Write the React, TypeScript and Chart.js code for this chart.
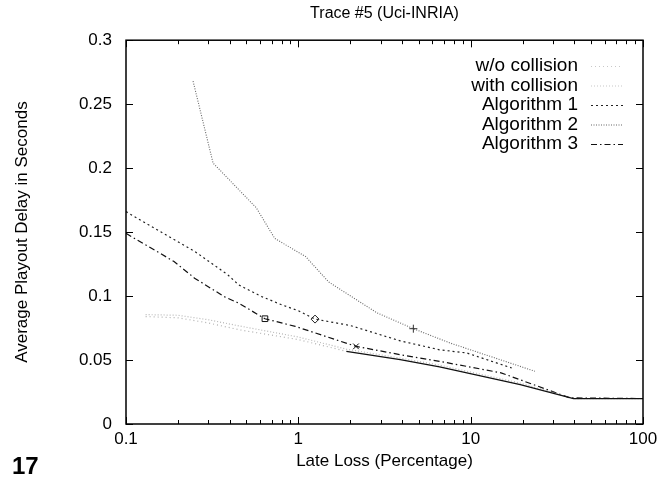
import React, { useEffect, useRef } from 'react';
import { Chart, registerables } from 'chart.js';

Chart.register(...registerables);

const TITLE = 'Trace #5 (Uci-INRIA)';
const X_TITLE = 'Late Loss (Percentage)';
const Y_TITLE = 'Average Playout Delay in Seconds';
const PAGE_NUMBER = '17';

const X_TICKS = [0.1, 1, 10, 100];
const Y_TICKS = [0, 0.05, 0.1, 0.15, 0.2, 0.25, 0.3];

const LABELS = ['w/o collision', 'with collision', 'Algorithm 1', 'Algorithm 2', 'Algorithm 3'];

const woCollisionX = [0.13, 0.2, 0.3, 0.46, 1, 1.9, 3.9, 6.6, 19.4, 39.5, 100];
const woCollisionY = [0.084, 0.083, 0.079, 0.0735, 0.066, 0.0568, 0.0503, 0.0446, 0.0308, 0.0199, 0.0199];

const withCollisionX = [0.13, 0.2, 0.3, 0.46, 1, 1.9, 3.9, 6.6, 19.4, 39.5, 100];
const withCollisionY = [0.0855, 0.085, 0.0815, 0.0765, 0.068, 0.0585, 0.0515, 0.046, 0.032, 0.0199, 0.0199];

const alg1X = [0.1, 0.16, 0.25, 0.39, 0.45, 0.61, 0.8, 1.0, 1.25, 2, 3.9, 6.6, 9.5, 17.3];
const alg1Y = [0.166, 0.15, 0.135, 0.1166, 0.1088, 0.0997, 0.0932, 0.0885, 0.082, 0.077, 0.065, 0.058, 0.0555, 0.0438];

const alg2X = [0.245, 0.32, 0.46, 0.57, 0.73, 1.1, 1.5, 2.85, 4.65, 7.6, 14.8, 23.6];
const alg2Y = [0.268, 0.204, 0.182, 0.169, 0.145, 0.131, 0.111, 0.087, 0.0745, 0.0633, 0.0503, 0.0412];

const alg3X = [0.1, 0.19, 0.25, 0.37, 0.45, 0.64, 0.96, 2.16, 3.9, 6.6, 15, 37.7, 100];
const alg3Y = [0.149, 0.127, 0.114, 0.0997, 0.0945, 0.0823, 0.0763, 0.0607, 0.0542, 0.049, 0.04, 0.0204, 0.0199];

// marker positions (x values of points carrying a symbol)
const alg1MarkerX = [1.25];
const alg2MarkerX = [4.65];
const alg3MarkerX = [0.64, 2.16];

const FONT = "'Liberation Sans', Arial, Helvetica, sans-serif";

const zip = (xs: number[], ys: number[]) => xs.map((x, i) => ({ x, y: ys[i] }));

const framePlugin = {
  id: 'frame',
  afterDraw(chart: any) {
    const { ctx, chartArea: a, scales } = chart;
    const xs = scales.x;
    const ys = scales.y;
    ctx.save();
    ctx.strokeStyle = '#000';
    ctx.lineWidth = 1.5;
    ctx.setLineDash([]);
    ctx.strokeRect(a.left, a.top, a.right - a.left, a.bottom - a.top);
    ctx.lineWidth = 1;
    ctx.beginPath();
    Y_TICKS.forEach((v) => {
      const p = Math.round(ys.getPixelForValue(v)) + 0.5;
      ctx.moveTo(a.left, p);
      ctx.lineTo(a.left + 7, p);
      ctx.moveTo(a.right, p);
      ctx.lineTo(a.right - 7, p);
    });
    for (let d = 0.1; d < 100; d *= 10) {
      for (let k = 1; k <= 10; k++) {
        const v = d * k;
        const p = Math.round(xs.getPixelForValue(v)) + 0.5;
        const len = k === 1 || k === 10 ? 7 : 4;
        ctx.moveTo(p, a.bottom);
        ctx.lineTo(p, a.bottom - len);
        ctx.moveTo(p, a.top);
        ctx.lineTo(p, a.top + len);
      }
    }
    ctx.stroke();

    ctx.font = `19px ${FONT}`;
    ctx.fillStyle = '#000';
    ctx.textAlign = 'right';
    ctx.textBaseline = 'middle';
    chart.data.datasets.forEach((ds: any, i: number) => {
      const y = 66 + i * 19.5;
      ctx.fillText(ds.label, 578, y);
      ctx.save();
      ctx.strokeStyle = ds.legendColor || ds.borderColor;
      ctx.lineWidth = ds.borderWidth || 1;
      ctx.setLineDash(ds.borderDash || []);
      ctx.beginPath();
      ctx.moveTo(591, y + 0.5);
      ctx.lineTo(623, y + 0.5);
      ctx.stroke();
      ctx.restore();
    });

    ctx.font = `bold 24px ${FONT}`;
    ctx.textAlign = 'left';
    ctx.textBaseline = 'alphabetic';
    ctx.fillText(PAGE_NUMBER, 12, 474);
    ctx.restore();
  },
};

const markerRadius = (xs: number[]) => (c: any) =>
  c.raw && xs.some((m) => Math.abs(m - c.raw.x) < 1e-9) ? 4 : 0;

export default function App() {
  const ref = useRef<HTMLCanvasElement>(null);
  useEffect(() => {
    document.body.style.margin = '0';
    const canvas = ref.current!;
    const chart = new Chart(canvas, {
      type: 'line',
      data: {
        datasets: [
          {
            label: LABELS[0],
            data: zip(woCollisionX, woCollisionY),
            borderColor: '#b0b0b0',
            legendColor: '#c8c8c8',
            borderWidth: 1.2,
            borderDash: [1, 3],
            pointRadius: 0,
            segment: {
              borderColor: (c: any) => (c.p0.parsed.x >= 1.85 ? '#111' : '#b0b0b0'),
              borderDash: (c: any) => (c.p0.parsed.x >= 1.85 ? [] : [1, 3]),
            },
          } as any,
          {
            label: LABELS[1],
            data: zip(withCollisionX, withCollisionY),
            borderColor: '#b8b8b8',
            legendColor: '#c8c8c8',
            borderWidth: 1.2,
            borderDash: [1, 2],
            pointRadius: 0,
          } as any,
          {
            label: LABELS[2],
            data: zip(alg1X, alg1Y),
            borderColor: '#222',
            borderWidth: 1.2,
            borderDash: [2, 3],
            pointRadius: markerRadius(alg1MarkerX),
            pointStyle: 'rectRot',
            pointBorderColor: '#222',
            pointBackgroundColor: 'rgba(0,0,0,0)',
            pointBorderWidth: 1,
          } as any,
          {
            label: LABELS[3],
            data: zip(alg2X, alg2Y),
            borderColor: '#666',
            borderWidth: 1.1,
            borderDash: [1, 1.5],
            pointRadius: markerRadius(alg2MarkerX),
            pointStyle: 'cross',
            pointBorderColor: '#333',
            pointBackgroundColor: 'rgba(0,0,0,0)',
            pointBorderWidth: 1,
          } as any,
          {
            label: LABELS[4],
            data: zip(alg3X, alg3Y),
            borderColor: '#111',
            borderWidth: 1.2,
            borderDash: [6, 3, 1.5, 3],
            pointRadius: (c: any) =>
              c.raw && alg3MarkerX.some((m) => Math.abs(m - c.raw.x) < 1e-9) ? 4 : 0,
            pointStyle: (c: any) => (c.raw && Math.abs(c.raw.x - alg3MarkerX[0]) < 1e-9 ? 'rect' : 'crossRot'),
            pointBorderColor: '#111',
            pointBackgroundColor: 'rgba(0,0,0,0)',
            pointBorderWidth: 1,
          } as any,
        ],
      },
      options: {
        responsive: false,
        animation: false,
        devicePixelRatio: 1,
        layout: { padding: { left: 0, right: 29, top: 0, bottom: 0 } },
        elements: { line: { tension: 0 } },
        plugins: {
          legend: { display: false },
          tooltip: { enabled: false },
          title: {
            display: true,
            text: TITLE,
            fullSize: false,
            color: '#000',
            font: { family: FONT, size: 16, weight: 'normal' },
            padding: { top: 4, bottom: 17 },
          },
        },
        scales: {
          x: {
            type: 'logarithmic',
            min: 0.1,
            max: 100,
            grid: { display: false, drawTicks: false },
            border: { display: false },
            afterBuildTicks: (s: any) => {
              s.ticks = X_TICKS.map((v) => ({ value: v }));
            },
            afterFit: (s: any) => {
              s.height = 55;
            },
            ticks: {
              color: '#000',
              font: { family: FONT, size: 17 },
              padding: 5,
              maxRotation: 0,
              autoSkip: false,
              callback: (v: any) => String(Number(v)),
            },
            title: {
              display: true,
              text: X_TITLE,
              color: '#000',
              font: { family: FONT, size: 17 },
              padding: { top: 0, bottom: 7 },
            },
          },
          y: {
            type: 'linear',
            min: 0,
            max: 0.3,
            grid: { display: false, drawTicks: false },
            border: { display: false },
            afterBuildTicks: (s: any) => {
              s.ticks = Y_TICKS.map((v) => ({ value: v }));
            },
            afterFit: (s: any) => {
              s.width = 126;
            },
            ticks: {
              color: '#000',
              font: { family: FONT, size: 17 },
              padding: 14,
              autoSkip: false,
              callback: (v: any) => String(Number(Number(v).toFixed(2))),
            },
            title: {
              display: true,
              text: Y_TITLE,
              color: '#000',
              font: { family: FONT, size: 17 },
              padding: { top: 12, bottom: 0 },
            },
          },
        },
      } as any,
      plugins: [framePlugin],
    });
    return () => chart.destroy();
  }, []);
  return <canvas ref={ref} width={672} height={479} style={{ display: 'block' }} />;
}
